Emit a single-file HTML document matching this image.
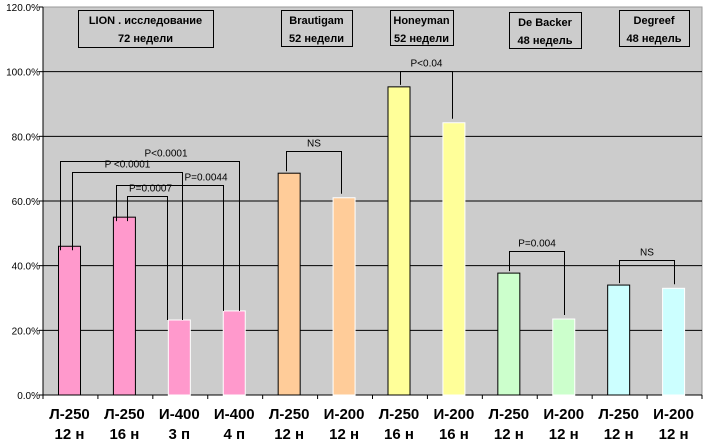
<!DOCTYPE html>
<html><head><meta charset="utf-8"><style>
body{margin:0;background:#fff;}
svg{display:block;font-family:"Liberation Sans","DejaVu Sans",sans-serif;}
</style></head><body>
<svg width="710" height="444" viewBox="0 0 710 444">
<g id="grid"></g><g id="bars"></g><g id="brk"></g><g id="labels"></g>
</svg>
<script>
const categories=["Л-250|12  н","Л-250|16  н","И-400|3  п","И-400|4  п","Л-250|12  н","И-200|12  н","Л-250|16  н","И-200|16  н","Л-250|12  н","И-200|12  н","Л-250|12  н","И-200|12  н"];
const values=[46,55,23.2,26,68.6,61,95.3,84.2,37.7,23.5,34,33];
const colors=["#FF99CC","#FF99CC","#FF99CC","#FF99CC","#FFCC99","#FFCC99","#FFFF99","#FFFF99","#CCFFCC","#CCFFCC","#CCFFFF","#CCFFFF"];
const outlines=["#000","#000","#fff","#fff","#000","#fff","#000","#fff","#000","#fff","#000","#fff"];
const yTicks=[0,20,40,60,80,100,120];
const yTickLabels=["0.0%","20.0%","40.0%","60.0%","80.0%","100.0%","120.0%"];
// [barA, barB, level %, label, legOffsetA, legOffsetB, labelShiftX]
const brackets=[[0,3,72.5,"P<0.0001",-9.5,4.8,16],[0,2,69,"P <0.0001",2.5,2.7,0],[1,3,65,"P=0.0044",-8.4,-11.2,36],[1,2,61.4,"P=0.0007",2.6,-12.3,3],[4,5,75.5,"NS",-3,-3,0],[6,7,100.3,"P<0.04",1,-2,0],[8,9,44.5,"P=0.004",0,0,0],[10,11,41.8,"NS",0,0,0]];
const studies=[[78,10,135,37,"LION . исследование","72 недели"],[281,10,71,36,"Brautigam","52 недели"],[390,10,63,35,"Honeyman","52 недели"],[509,12,72,36,"De Backer","48 недель"],[619,10,70,36,"Degreef","48 недель"]];
const NS="http://www.w3.org/2000/svg";
const X0=43,X1=702,Y0=395,Ytop=7,slot=(X1-X0)/categories.length;
const y=v=>Y0-(v/120)*(Y0-Ytop);
function mk(t,a,p){const e=document.createElementNS(NS,t);for(const k in a)e.setAttribute(k,a[k]);p.appendChild(e);return e;}
const G=document.getElementById('grid'),B=document.getElementById('bars'),K=document.getElementById('brk'),L=document.getElementById('labels');
const bg=mk('rect',{x:X0,y:Ytop,width:X1-X0,height:Y0-Ytop,fill:'#cccccc',stroke:'#999',"stroke-width":1},G);


yTicks.forEach((t,i)=>{
 if(t>0&&t<120){const l=mk('line',{x1:X0,x2:X1,y1:y(t),y2:y(t),stroke:'#000'},G);
 
 }
 mk('line',{x1:X0-4,x2:X0,y1:y(t),y2:y(t),stroke:'#000'},G);
 const tx=mk('text',{x:40,y:y(t)+4,"text-anchor":"end","font-size":"10",fill:'#000'},G);
 tx.textContent=yTickLabels[i];
 
 
});
mk('line',{x1:X0,x2:X0,y1:Ytop,y2:Y0,stroke:'#000'},G);
mk('line',{x1:X0,x2:X1,y1:Y0,y2:Y0,stroke:'#000'},G);
for(let i=0;i<=categories.length;i++)mk('line',{x1:X0+i*slot,x2:X0+i*slot,y1:Y0,y2:Y0+4,stroke:'#000'},G);
const cx=i=>X0+i*slot+26.5;
values.forEach((v,i)=>{
 const r=mk('rect',{x:X0+i*slot+15.5,y:y(v),width:22,height:Y0-y(v),fill:colors[i],stroke:outlines[i],"stroke-width":1},B);
 
 
 const [a,b]=categories[i].split('|');
 const t=mk('text',{x:cx(i),"text-anchor":"middle","font-size":"15","font-weight":"bold",fill:'#000'},L);
 
 
 mk('tspan',{x:cx(i),y:419},t).textContent=a;
 mk('tspan',{x:cx(i),y:439},t).textContent=b;
});
brackets.forEach(([a,b,h,txt,oa,ob,dx])=>{
 const xa=Math.round(cx(a)+oa)+.5,xb=Math.round(cx(b)+ob)+.5;
 const lion=a<4;
 const yh=Math.round(y(h))+.5,ya=y(values[a])+(lion?4:-2),yb=y(values[b])-(lion?0:4);
 const p=mk('path',{d:`M${xa},${ya}V${yh}H${xb}V${yb}`,fill:'none',stroke:'#000'},K);
 
 
 const t=mk('text',{x:(xa+xb)/2+dx,y:yh-5,"text-anchor":"middle","font-size":"10",fill:'#000'},K);
 t.textContent=txt;
 
 
});
studies.forEach(([x,yy,w,h,l1,l2])=>{
 const r=mk('rect',{x:x+.5,y:yy+.5,width:w,height:h,fill:'none',stroke:'#000'},L);
 
 
 const t=mk('text',{x:x+w/2,"text-anchor":"middle","font-size":"11","font-weight":"bold",fill:'#000'},L);
 
 
 mk('tspan',{x:x+w/2,y:yy+14},t).textContent=l1;
 mk('tspan',{x:x+w/2,y:yy+32},t).textContent=l2;
});
</script>
</body></html>
